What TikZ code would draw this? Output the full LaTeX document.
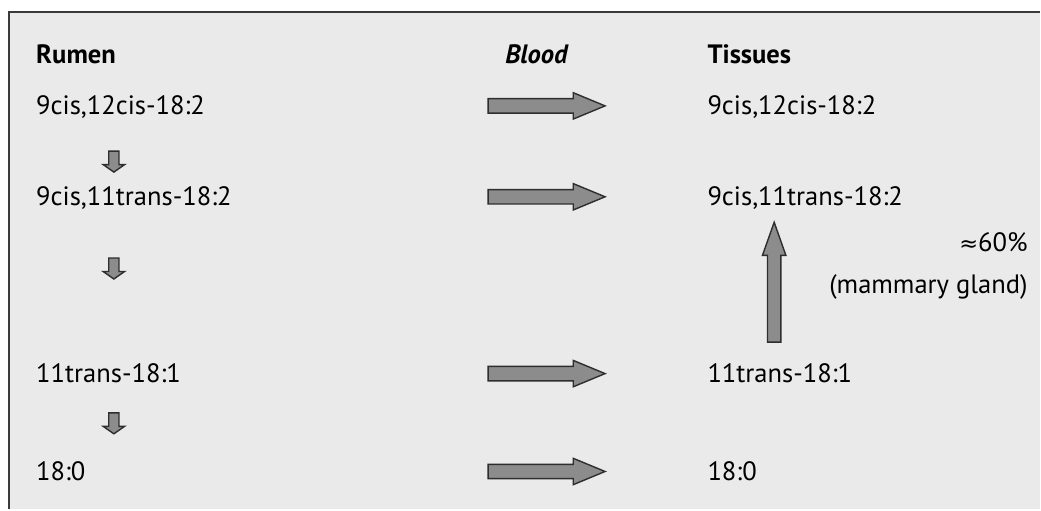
\documentclass[tikz,border=0pt]{standalone}
\usepackage{fontspec}
\setmainfont{PT Sans}
\newfontfamily\symfont{DejaVu Sans}
\usetikzlibrary{shapes.arrows}
\definecolor{panel}{HTML}{EAEAEA}
\definecolor{frame}{HTML}{3A3A3A}
\definecolor{arrowfill}{HTML}{8C8C8C}
\definecolor{arrowline}{HTML}{2E2E2E}
\tikzset{
  entry/.style={anchor=base west,inner sep=0pt},
  blockarrow/.style={single arrow,draw=arrowline,fill=arrowfill,line width=1pt,
    inner xsep=0pt,single arrow head indent=0pt},
  flowarrow/.style={blockarrow,inner ysep=0.1625cm,minimum height=2.925cm,
    single arrow head extend=0.15cm,single arrow tip angle=45},
  steparrow/.style={blockarrow,rotate=-90,inner ysep=0.11cm,minimum height=0.525cm,
    single arrow head extend=0.14cm,single arrow tip angle=110}
}

\begin{document}
\begin{tikzpicture}[x=0.025cm,y=-0.025cm,font=\fontsize{18.9}{22}\selectfont]
\fill[white] (0,0) rectangle (1041,510);
\fill[panel] (9,12) rectangle (1041,510);
\draw[frame,line width=1.6pt] (9,510) -- (9,12) -- (1041,12);

\node[entry,font=\fontsize{18.9}{22}\selectfont\bfseries] (rumen) at (36,64) {Rumen};
\node[anchor=base,inner sep=0pt,font=\fontsize{18.9}{22}\selectfont\bfseries\itshape] (blood) at (537,64) {Blood};
\node[entry,font=\fontsize{18.9}{22}\selectfont\bfseries] (tissues) at (708,64) {Tissues};

\foreach \i/\y/\t in {1/115/{9cis,12cis-18:2},2/206/{9cis,11trans-18:2},3/383/{11trans-18:1},4/481/{18:0}} {
  \node[entry] (r\i) at (36,\y) {\t};
  \node[entry] (t\i) at (708,\y) {\t};
  \node[flowarrow] (h\i) at (538.5,\y-9) {};
}

\foreach \i/\y in {1/160,2/267,3/422}
  \node[steparrow] (d\i) at (114,\y) {};

\node[blockarrow,rotate=90,inner ysep=0.15cm,minimum height=3cm,
  single arrow head extend=0.125cm,single arrow tip angle=39] (up) at (775,292) {};

\node[anchor=base east,inner sep=0pt] (share) at (1029,252) {{\symfont\fontsize{16}{19}\selectfont ≈}60\%};
\node[anchor=base east,inner sep=0pt] (gland) at (1029,294) {(mammary gland)};
\end{tikzpicture}
\end{document}
